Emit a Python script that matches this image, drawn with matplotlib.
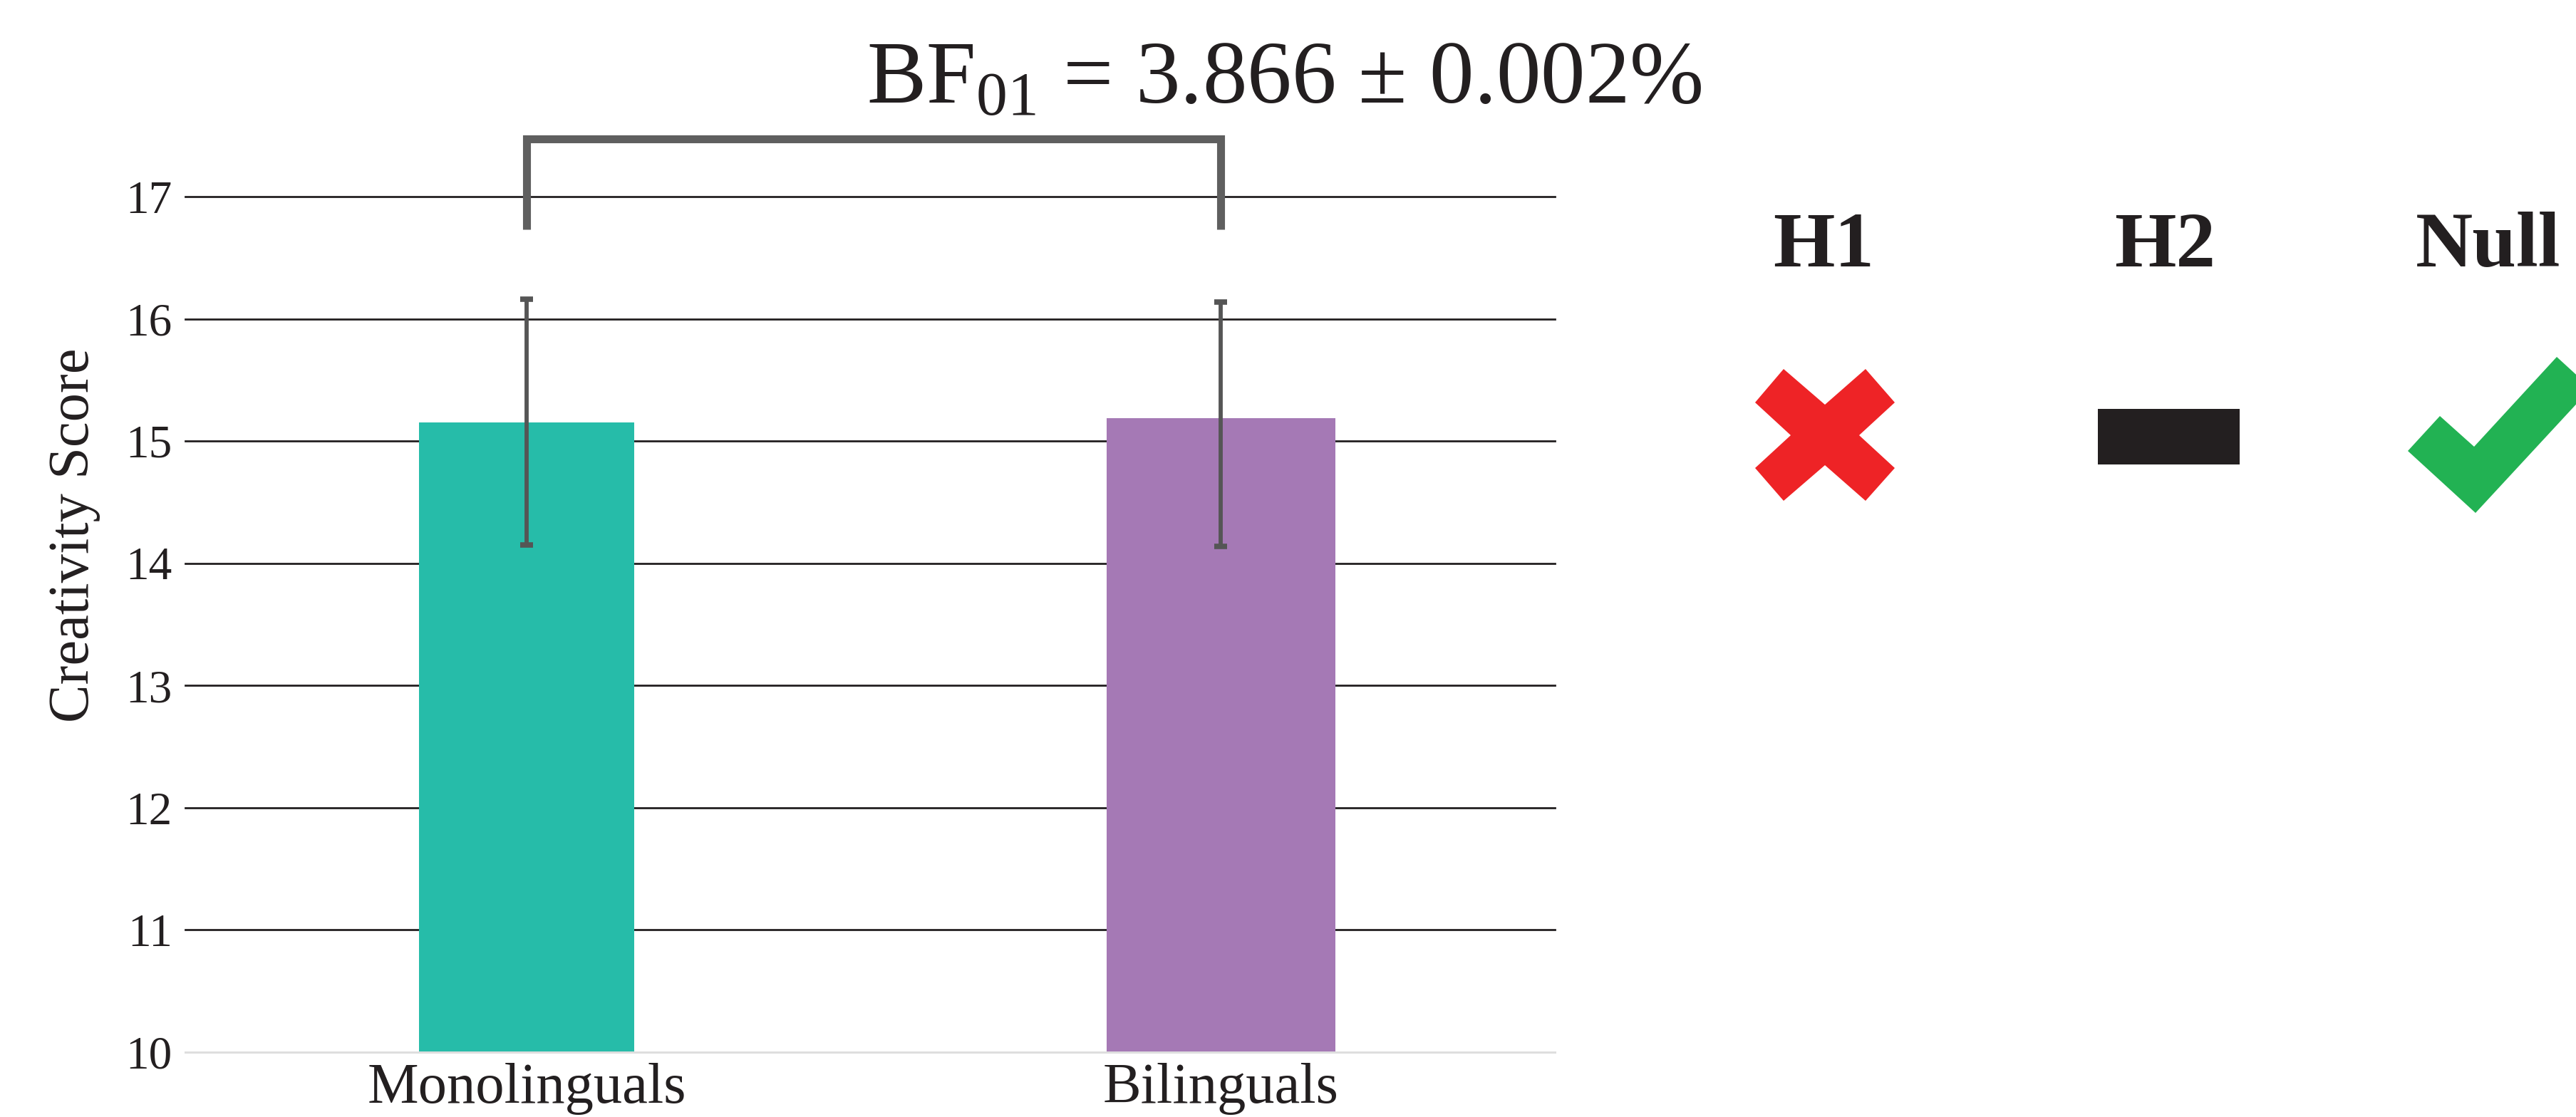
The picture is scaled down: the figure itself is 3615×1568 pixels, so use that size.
import matplotlib
matplotlib.use('Agg')
import matplotlib.pyplot as plt
from matplotlib.patches import Polygon, Rectangle

plt.rcParams['font.family'] = ['Liberation Serif', 'DejaVu Serif']
plt.rcParams['mathtext.fontset'] = 'custom'
plt.rcParams['mathtext.rm'] = 'Liberation Serif'
plt.rcParams['mathtext.it'] = 'Liberation Serif:italic'

# data
groups = ['Monolinguals', 'Bilinguals']
means = [15.15, 15.19]
ci_low = [14.15, 14.14]
ci_high = [16.16, 16.14]
bar_colors = ['#26bca9', '#a579b5']
bar_widths = [0.31, 0.33]
y_ticks = [10, 11, 12, 13, 14, 15, 16, 17]
bf_text = r'$\mathrm{BF}_{01}$ = 3.866 ± 0.002%'
hyp_names = ['H1', 'H2', 'Null']

W, H = 3615, 1568
fig = plt.figure(figsize=(W / 100, H / 100), dpi=100)
ax = fig.add_axes([260 / W, 91 / H, 1922 / W, 1201 / H])

x = list(range(len(groups)))
ax.bar(x, means, width=bar_widths, color=bar_colors, zorder=1)
yerr = [[m - lo for m, lo in zip(means, ci_low)], [hi - m for m, hi in zip(means, ci_high)]]
ax.errorbar(x, means, yerr=yerr, fmt='none', ecolor='#555555', elinewidth=4.2,
            capsize=6.8, capthick=5.5, zorder=3)

ax.set_xlim(-0.492, 1.481)
ax.set_ylim(10, 17)
ax.set_yticks(y_ticks)
ax.set_yticklabels([str(t) for t in y_ticks], fontsize=47)
ax.set_xticks(x)
ax.set_xticklabels(groups, fontsize=58)
ax.tick_params(axis='y', length=0, pad=13, colors='#231f20')
ax.tick_params(axis='x', length=0, pad=11, colors='#231f20')

for t in y_ticks[1:]:
    ax.axhline(t, color='#231f20', lw=2.0, zorder=0.5, clip_on=False)
for s in ['top', 'right', 'left']:
    ax.spines[s].set_visible(False)
ax.spines['bottom'].set_color('#dedede')
ax.spines['bottom'].set_linewidth(2.2)

ax.set_ylabel('Creativity Score', fontsize=58, color='#231f20')
ax.yaxis.set_label_coords(-0.062, 0.604)

# comparison bracket
ax.plot([0, 0, 1, 1], [16.73, 17.47, 17.47, 16.73], color='#5f5f5f', lw=8,
        solid_joinstyle='miter', solid_capstyle='butt', clip_on=False, zorder=4)

fig.text(1216 / W, 1 - 145 / H, bf_text, fontsize=90, ha='left', va='baseline',
         color='#231f20')

# hypothesis verdicts
hyp_x = [2559, 3038, 3492]
for name, hx in zip(hyp_names, hyp_x):
    fig.text(hx / W, 1 - 374 / H, name, fontsize=80, fontweight='bold',
             ha='center', va='baseline', color='#231f20')

ov = fig.add_axes([0, 0, 1, 1])
ov.set_xlim(0, W)
ov.set_ylim(H, 0)
ov.axis('off')
cross = [(2503, 518), (2463, 565), (2513, 611), (2463, 657), (2503, 703),
         (2561, 653), (2618, 703), (2659, 657), (2609, 611), (2659, 565),
         (2618, 518), (2561, 568)]
ov.add_patch(Polygon(cross, closed=True, color='#ee2326', lw=0))
ov.add_patch(Rectangle((2944, 574), 199, 78, color='#231f20', lw=0))
check = [(3379, 633), (3424, 584), (3472, 627), (3588, 501), (3636, 545), (3474, 720)]
ov.add_patch(Polygon(check, closed=True, color='#22b253', lw=0))

fig.savefig('out.png', dpi=100)
